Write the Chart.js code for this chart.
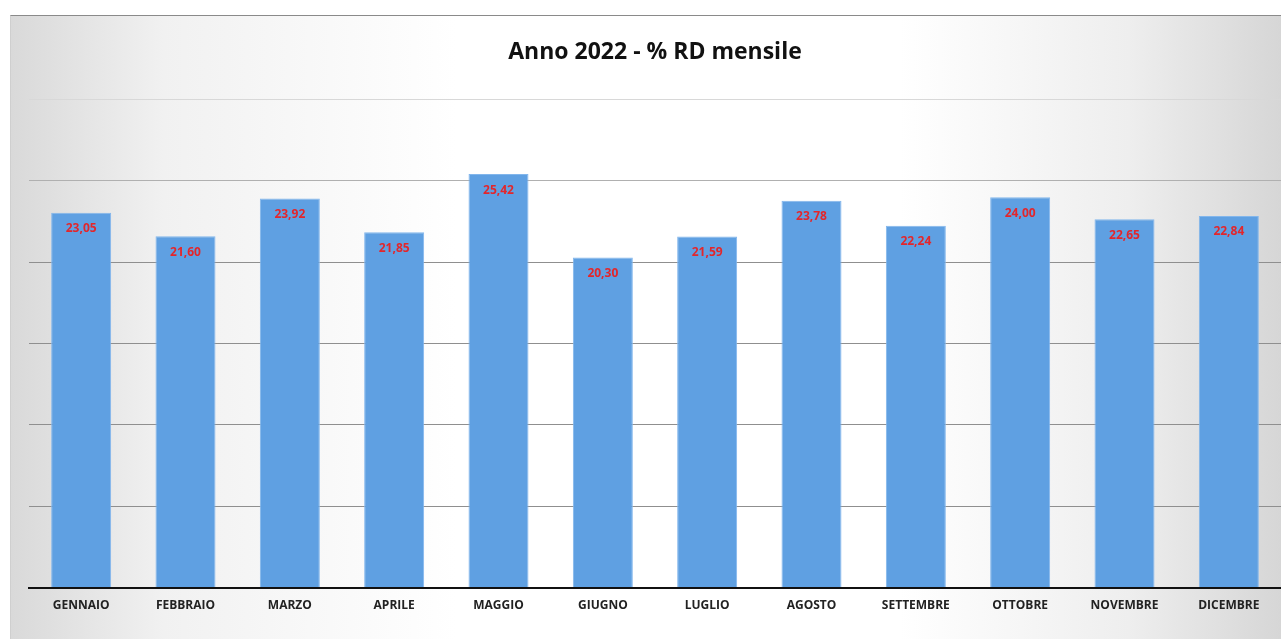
<!DOCTYPE html>
<html>
<head>
<meta charset="utf-8">
<script src="https://cdn.jsdelivr.net/npm/chart.js@4"></script>
<style>
  html, body { margin: 0; padding: 0; background: #fff; width: 1281px; height: 639px; overflow: hidden; }
  #wrap {
    position: absolute; left: 10px; top: 15px; width: 1271px; height: 624px;
    background: linear-gradient(to right, #d9d9d9 0%, #f1f1f1 12%, #ffffff 35%, #ffffff 70%, #eeeeee 88%, #d6d6d6 100%);
    border-top: 1px solid #8a8a8a;
    border-left: 1px solid #cfcfcf;
    box-sizing: border-box;
  }
  canvas { display: block; }
</style>
</head>
<body>
<div id="wrap"><canvas id="c" width="1270" height="623"></canvas></div>
<script>
const titleText = "Anno 2022 - % RD mensile";
const months = ["GENNAIO","FEBBRAIO","MARZO","APRILE","MAGGIO","GIUGNO","LUGLIO","AGOSTO","SETTEMBRE","OTTOBRE","NOVEMBRE","DICEMBRE"];
const rdPercent = [23.05, 21.60, 23.92, 21.85, 25.42, 20.30, 21.59, 23.78, 22.24, 24.00, 22.65, 22.84];
const yMin = 0, yMax = 30, yStep = 5;

const valueLabels = {
  id: 'valueLabels',
  afterDatasetsDraw(chart) {
    const ctx = chart.ctx;
    const meta = chart.getDatasetMeta(0);
    ctx.save();
    ctx.font = "bold 12px 'Open Sans', sans-serif";
    ctx.fillStyle = "#e3262b";
    ctx.textAlign = "center";
    ctx.textBaseline = "middle";
    meta.data.forEach((bar, i) => {
      const v = chart.data.datasets[0].data[i];
      ctx.fillText(v.toFixed(2).replace('.', ','), bar.x, bar.y + 16);
    });
    ctx.restore();
  }
};

new Chart(document.getElementById('c'), {
  type: 'bar',
  data: {
    labels: months,
    datasets: [{
      data: rdPercent,
      backgroundColor: '#5fa0e2',
      borderColor: '#82b6ec',
      borderWidth: 1,
      barPercentage: 0.575,
      categoryPercentage: 1.0
    }]
  },
  options: {
    responsive: false,
    animation: false,
    devicePixelRatio: 1,
    layout: { padding: { left: 18, right: 0, top: 0, bottom: 15 } },
    plugins: {
      legend: { display: false },
      tooltip: { enabled: false },
      title: {
        display: true,
        text: titleText,
        color: '#111',
        font: { family: "'Open Sans', sans-serif", size: 23, weight: 'bold' },
        padding: { top: 23, bottom: 33 }
      }
    },
    scales: {
      x: {
        grid: { display: false, drawTicks: false },
        border: { display: true, color: '#111', width: 2 },
        ticks: {
          color: '#222',
          font: { family: "'Open Sans', sans-serif", size: 12, weight: 'bold' },
          padding: 11,
          maxRotation: 0,
          autoSkip: false
        }
      },
      y: {
        min: yMin, max: yMax,
        ticks: { display: false, stepSize: yStep },
        grid: {
          color: (ctx) => {
            const v = ctx.tick ? ctx.tick.value : 0;
            if (v >= 30) return '#d8d8d8';
            if (v >= 25) return '#b0b0b0';
            return '#8f8f8f';
          },
          lineWidth: 1,
          drawTicks: false
        },
        border: { display: false }
      }
    }
  },
  plugins: [valueLabels]
});
</script>
</body>
</html>
